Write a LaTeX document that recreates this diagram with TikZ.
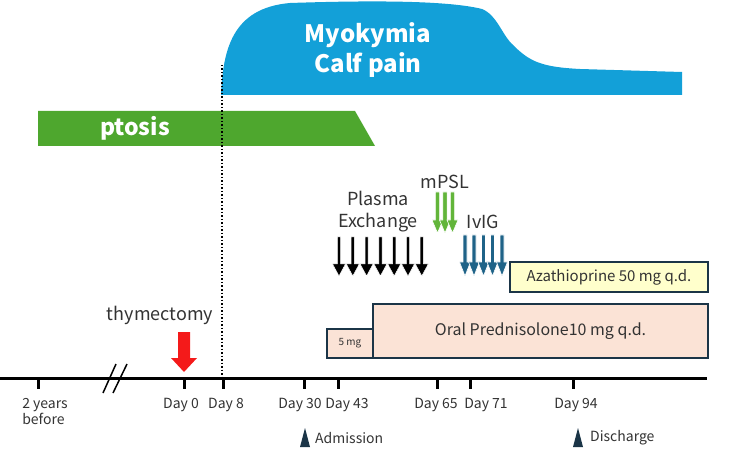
\documentclass[tikz,border=0pt]{standalone}
\usepackage{fontspec}
\setmainfont{Noto Sans CJK JP}
\usepackage{xcolor}
\usepackage{tikz}
\usetikzlibrary{positioning, arrows.meta}
\definecolor{skyblue}{HTML}{13A0D8}
\definecolor{ptgreen}{HTML}{4EA72E}
\definecolor{mpslgreen}{HTML}{62B53A}
\definecolor{ivigblue}{HTML}{1F6388}
\definecolor{thymred}{HTML}{F41A1A}
\definecolor{azayellow}{HTML}{FFFFCC}
\definecolor{predpeach}{HTML}{FBE3D6}
\definecolor{boxnavy}{HTML}{1B3547}
\definecolor{labelgray}{HTML}{333333}

\tikzset{
  daylabel/.style={text=labelgray, font=\fontsize{14}{16}\selectfont, inner sep=0pt},
  druglabel/.style={text=labelgray, font=\fontsize{18}{22}\selectfont, inner sep=0pt, align=center},
  drugbox/.style={draw=boxnavy, line width=1.6pt, text=labelgray, inner sep=0pt},
  tick/.style={line width=3pt},
}

\begin{document}
\begin{tikzpicture}[x=1pt, y=-1pt]
    \useasboundingbox (0,0) rectangle (750,457);
    % symptoms
    \fill[skyblue] (221,95) .. controls (223,50) and (232,8) .. (290,3)
      .. controls (380,0) and (450,1) .. (482,9)
      .. controls (497,15) and (502,35) .. (513,45)
      .. controls (530,62) and (542,67) .. (580,69)
      -- (682,72) -- (682,95) -- cycle;
    \node[text=white, font=\bfseries\fontsize{24}{30}\selectfont, align=center] (myo) at (368,50) {Myokymia\\Calf pain};
    \fill[ptgreen] (38,111) -- (355,111) -- (375,146) -- (38,146) -- cycle;
    \node[text=white, font=\bfseries\fontsize{23}{26}\selectfont] (ptosis) at (135,128) {ptosis};
    \draw[dotted, line width=1.5pt] (222,65) -- (222,378);

    % treatments
    \node[druglabel] (plasma) at (378,212) {Plasma\\Exchange};
    \foreach \i in {0,...,6}{
      \fill[black, draw=white, line width=0.5pt] ({339+13.8*\i-1.6},237) -- ({339+13.8*\i+1.6},237) -- ({339+13.8*\i+1.6},264)
        -- ({339+13.8*\i+6.5},264) -- ({339+13.8*\i},276) -- ({339+13.8*\i-6.5},264) -- ({339+13.8*\i-1.6},264) -- cycle;
    }
    \node[druglabel] (mpsl) at (445,182) {mPSL};
    \foreach \x in {437.5,445,452.5}{
      \fill[mpslgreen, draw=white, line width=0.6pt] (\x-2.2,192) -- (\x+2.2,192) -- (\x+2.2,220)
        -- (\x+5.5,220) -- (\x,233) -- (\x-5.5,220) -- (\x-2.2,220) -- cycle;
    }
    \node[druglabel] (ivig) at (483,222) {IvIG};
    \foreach \x in {465,474,483.5,492.5,502}{
      \fill[ivigblue, draw=white, line width=0.6pt] (\x-2,235) -- (\x+2,235) -- (\x+2,262)
        -- (\x+5.5,262) -- (\x,276) -- (\x-5.5,262) -- (\x-2,262) -- cycle;
    }
    \node[drugbox, fill=azayellow, minimum width=198pt, minimum height=30pt,
          font=\fontsize{15}{18}\selectfont] (aza) at (609,277) {Azathioprine 50 mg q.d.};
    \node[drugbox, fill=predpeach, minimum width=46pt, minimum height=29pt,
          font=\fontsize{10}{12}\selectfont] (fivemg) at (350,343.5) {5 mg};
    \node[drugbox, fill=predpeach, minimum width=335pt, minimum height=54pt,
          font=\fontsize{16}{19}\selectfont] (pred) at (540.5,331) {Oral Prednisolone10 mg q.d.};

    % thymectomy
    \node[druglabel] (thym) at (160,315) {thymectomy};
    \fill[thymred] (178,332) -- (190,332) -- (190,358) -- (197,358) -- (184,372) -- (171,358) -- (178,358) -- cycle;

    % time axis
    \draw[line width=3pt] (0,378) -- (707,378);
    \draw[line width=1.5pt] (103,393) -- (116,364) (113,393) -- (127,364);
    \foreach \name/\x in {before/38, d0/184, d8/223, d30/304, d43/338, d65/437, d71/470, d94/573}{
      \coordinate (t\name) at (\x,378);
      \draw[tick] (t\name) -- ++(0,11);
    }
    \node[daylabel, align=left] (lbefore) at (45,412) {2 years\\before};
    \node[daylabel] (ld0) at (181,405) {Day 0};
    \node[daylabel] (ld8) at (226,405) {Day 8};
    \node[daylabel] (ld30) at (300,405) {Day 30};
    \node[daylabel] (ld43) at (347,405) {Day 43};
    \node[daylabel] (ld65) at (436,405) {Day 65};
    \node[daylabel] (ld71) at (486,405) {Day 71};
    \node[daylabel] (ld94) at (576,405) {Day 94};

    \fill[boxnavy] (300,447) -- (305,428) -- (310,447) -- cycle;
    \node[daylabel, anchor=west] (admit) at (315,438) {Admission};
    \fill[boxnavy] (573,447) -- (578,428) -- (583,447) -- cycle;
    \node[daylabel, anchor=west] (disch) at (590,438) {Discharge};
  \end{tikzpicture}
\end{document}
